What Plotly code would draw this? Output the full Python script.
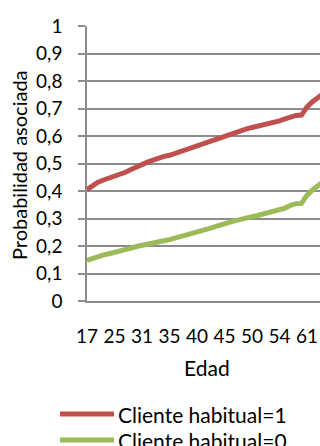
import plotly.graph_objects as go

# ---- data ----
ages = [17, 19, 21, 22, 23, 25, 26, 27, 28, 30, 31, 32, 33, 33, 34,
        35, 36, 37, 38, 39, 40, 41, 42, 43, 44, 45, 46, 47, 48, 49,
        50, 51, 51, 52, 53, 54, 56, 57, 58, 58, 61, 63, 65, 67]
cliente_1 = [0.405, 0.420, 0.432, 0.440, 0.446, 0.452, 0.460, 0.468, 0.478, 0.488,
             0.497, 0.505, 0.512, 0.520, 0.526, 0.530, 0.537, 0.544, 0.551, 0.559,
             0.564, 0.571, 0.578, 0.586, 0.594, 0.601, 0.608, 0.615, 0.622, 0.626,
             0.631, 0.635, 0.640, 0.645, 0.650, 0.655, 0.662, 0.670, 0.675, 0.676,
             0.706, 0.725, 0.743, 0.755]
cliente_0 = [0.148, 0.155, 0.163, 0.168, 0.172, 0.176, 0.181, 0.186, 0.192, 0.198,
             0.203, 0.207, 0.211, 0.215, 0.219, 0.223, 0.228, 0.233, 0.238, 0.243,
             0.250, 0.256, 0.262, 0.269, 0.276, 0.282, 0.287, 0.292, 0.298, 0.302,
             0.307, 0.311, 0.316, 0.320, 0.325, 0.330, 0.338, 0.348, 0.354, 0.355,
             0.385, 0.404, 0.422, 0.435]
series_names = ["Cliente habitual=1", "Cliente habitual=0"]
series_colors = ["#C0504D", "#9BBB59"]
y_ticks = [0, 0.1, 0.2, 0.3, 0.4, 0.5, 0.6, 0.7, 0.8, 0.9, 1]
label_every = 5

idx = list(range(len(ages)))
tick_idx = idx[::label_every]
tick_txt = [str(a) for a in ages[::label_every]]

FONT = "Lato"
GRID = "#8c8c8c"
W, H = 320, 446
L, R, T, B = 87, 0, 26, 145


def px(x):
    return (x - L) / (W - L - R)


def py(y):
    return (H - B - y) / (H - B - T)


fig = go.Figure()
for name, vals, col in zip(series_names, [cliente_1, cliente_0], series_colors):
    fig.add_trace(go.Scatter(x=idx, y=vals, mode="lines", name=name,
                             line=dict(color=col, width=5), showlegend=False))

fig.update_layout(
    width=W, height=H,
    margin=dict(l=L, r=R, t=T, b=B, pad=0),
    paper_bgcolor="white", plot_bgcolor="white",
    separators=",.",
    font=dict(family=FONT, size=20, color="#000000"),
    xaxis=dict(range=[0, 42.36], tickmode="array", tickvals=tick_idx, ticktext=tick_txt,
               showgrid=False, zeroline=False, showline=True, linecolor=GRID, linewidth=1.5,
               ticks="", ticklabelstandoff=17, tickfont=dict(size=19)),
    yaxis=dict(range=[0, 1], tickmode="array", tickvals=y_ticks,
               showgrid=True, gridcolor=GRID, gridwidth=1.5, zeroline=False,
               showline=True, linecolor=GRID, linewidth=1.5,
               ticks="outside", ticklen=7, tickcolor=GRID, tickwidth=1.5,
               ticklabelstandoff=12, tickfont=dict(size=19)),
)

# axis titles
fig.add_annotation(text="Edad", x=px(207), y=py(367), xref="paper", yref="paper",
                   showarrow=False, xanchor="center", yanchor="middle", font=dict(size=21))
fig.add_annotation(text="Probabilidad asociada", x=px(19), y=py(165), xref="paper", yref="paper",
                   showarrow=False, textangle=-90, xanchor="center", yanchor="middle",
                   font=dict(size=20))

# legend (drawn below the plot)
for k, (name, col) in enumerate(zip(series_names, series_colors)):
    yy = 414 + 26 * k
    fig.add_shape(type="line", xref="paper", yref="paper", x0=px(60), x1=px(114),
                  y0=py(yy), y1=py(yy), line=dict(color=col, width=5))
    fig.add_annotation(text=name, x=px(116), y=py(yy), xref="paper", yref="paper",
                       showarrow=False, xanchor="left", yanchor="middle", font=dict(size=21))

fig.write_html("out.html")
